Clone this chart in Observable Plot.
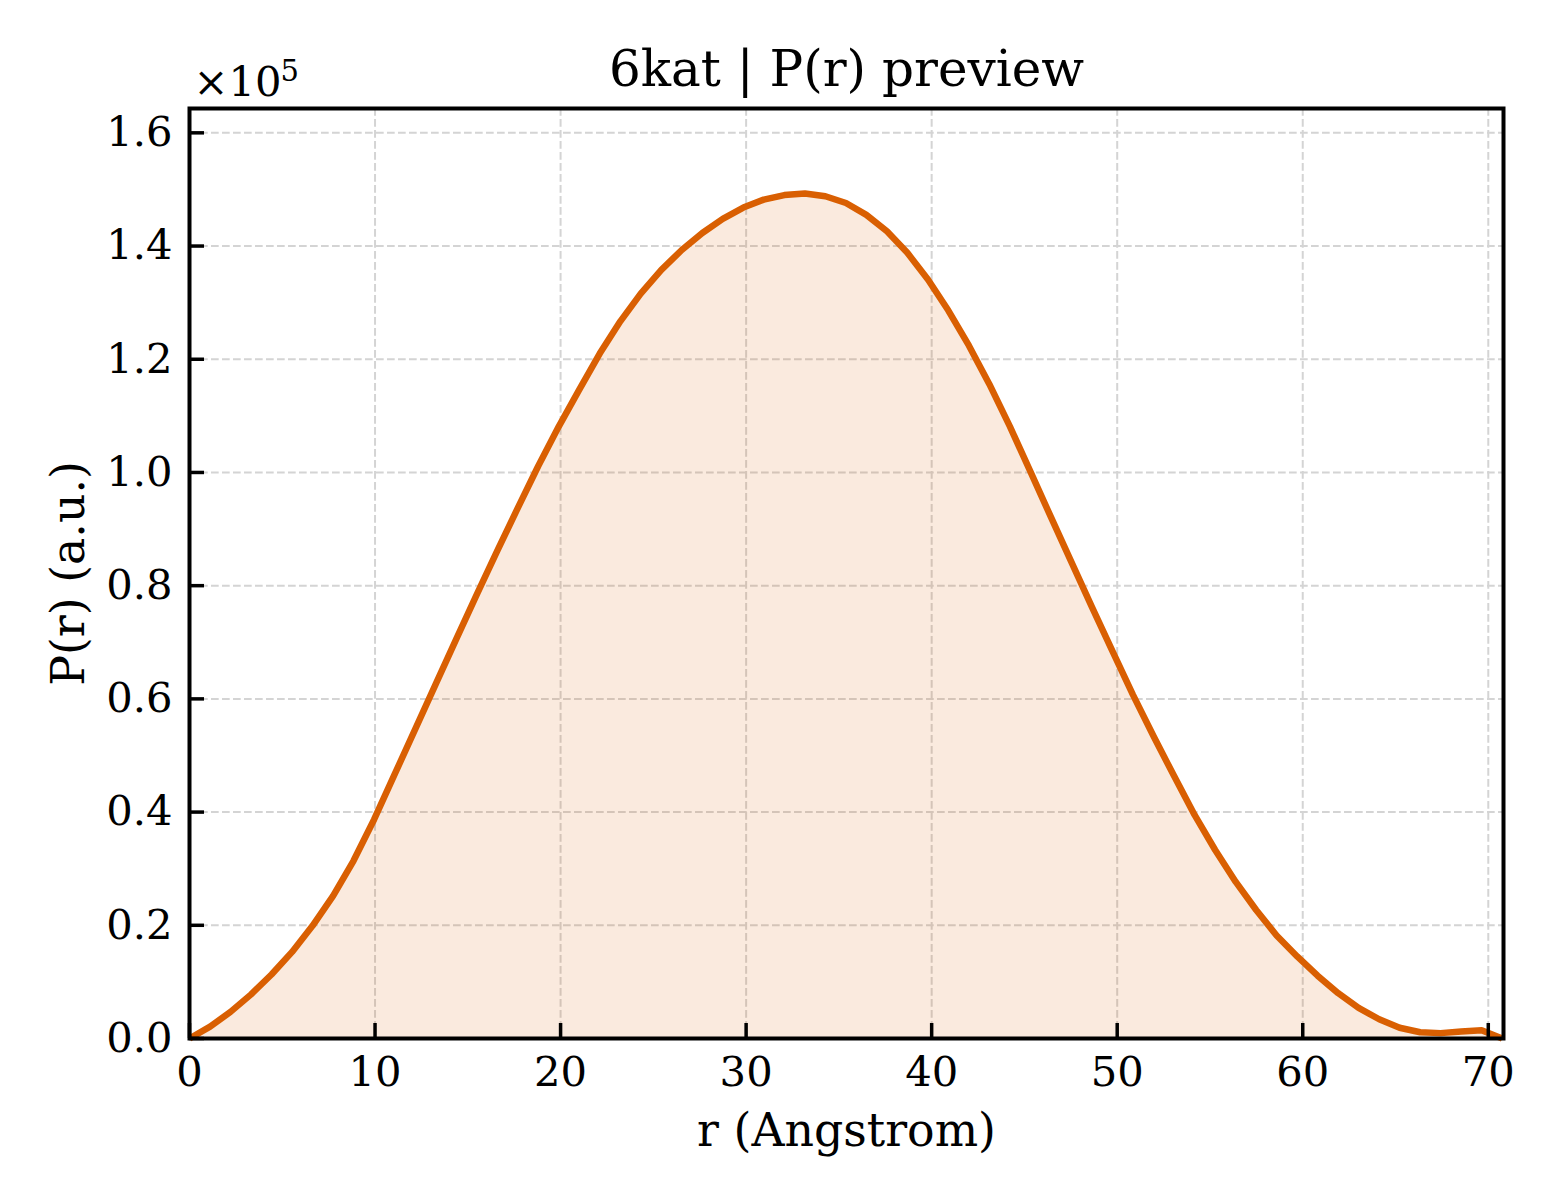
<!DOCTYPE html>
<html>
<head>
<meta charset="utf-8">
<script src="https://cdn.jsdelivr.net/npm/d3@7"></script>
<script src="https://cdn.jsdelivr.net/npm/@observablehq/plot@0.6"></script>
<style>
  html, body { margin: 0; padding: 0; background: #ffffff; }
  #chart svg { display: block; }
</style>
</head>
<body>
<div id="chart"></div>
<script>
// ---- data ----
const rValues = [0, 1.11, 2.21, 3.32, 4.42, 5.53, 6.63, 7.74, 8.84, 9.95,
  11.06, 12.16, 13.27, 14.37, 15.48, 16.58, 17.69, 18.79, 19.90, 21.00,
  22.11, 23.22, 24.32, 25.43, 26.53, 27.64, 28.74, 29.85, 30.95, 32.06,
  33.17, 34.27, 35.38, 36.48, 37.59, 38.69, 39.80, 40.90, 42.01, 43.11,
  44.22, 45.33, 46.43, 47.54, 48.64, 49.75, 50.85, 51.96, 53.06, 54.17,
  55.28, 56.38, 57.49, 58.59, 59.70, 60.80, 61.91, 63.01, 64.12, 65.22,
  66.33, 67.43, 68.54, 69.64, 70.75];
const pValues = [0, 2100, 4700, 7800, 11300, 15300, 19900, 25200, 31400, 38700,
  46700, 54600, 62600, 70500, 78400, 86100, 93700, 101100, 108100, 114600,
  121000, 126700, 131600, 135800, 139300, 142300, 144800, 146800, 148200, 149000,
  149300, 148800, 147600, 145500, 142600, 138800, 134100, 128600, 122400, 115600,
  108100, 100100, 92100, 84100, 76200, 68400, 60700, 53400, 46400, 39500,
  33300, 27700, 22700, 18200, 14500, 11100, 8000, 5400, 3400, 1900,
  1100, 950, 1250, 1470, 0];
const xTicks = [0, 10, 20, 30, 40, 50, 60, 70];
const yTicks = [0, 20000, 40000, 60000, 80000, 100000, 120000, 140000, 160000];
const titleText = "6kat | P(r) preview";
const xLabel = "r (Angstrom)";
const yLabel = "P(r) (a.u.)";
const offsetBase = "×10";
const offsetExp = "5";

const data = rValues.map((r, i) => ({r, p: pValues[i]}));

const W = 1560, H = 1200;
const mL = 189, mR = 57, mT = 108, mB = 162;
const innerW = W - mL - mR, innerH = H - mT - mB;
const orange = "#d95f02";
const tickLen = 15;

const chart = Plot.plot({
  width: W,
  height: H,
  marginLeft: mL,
  marginRight: mR,
  marginTop: mT,
  marginBottom: mB,
  style: {fontFamily: "'DejaVu Serif', serif", fontSize: "41.7px", color: "#000", background: "#fff", overflow: "visible"},
  x: {domain: [0, 70.82], axis: null},
  y: {domain: [0, 164300], axis: null},
  marks: [
    Plot.gridX(xTicks, {stroke: "#d4d4d4", strokeOpacity: 1, strokeWidth: 2, strokeDasharray: "7.7,3.3"}),
    Plot.gridY(yTicks, {stroke: "#d4d4d4", strokeOpacity: 1, strokeWidth: 2, strokeDasharray: "7.7,3.3"}),
    Plot.areaY(data, {x: "r", y: "p", fill: orange, fillOpacity: 0.13}),
    Plot.lineY(data, {x: "r", y: "p", stroke: orange, strokeWidth: 6.5, strokeLinejoin: "round", strokeLinecap: "butt"}),
    // inward ticks
    Plot.ruleX(xTicks, {x: d => d, insetTop: innerH - tickLen, stroke: "#000", strokeWidth: 3.5}),
    Plot.ruleY(yTicks, {y: d => d, insetRight: innerW - tickLen, stroke: "#000", strokeWidth: 3.5}),
    // tick labels
    Plot.axisX(xTicks, {tickSize: 0, tickPadding: 18, tickFormat: d => String(d), fontSize: 41.7, label: null}),
    Plot.axisY(yTicks, {tickSize: 0, tickPadding: 17, tickFormat: d => (d / 1e5).toFixed(1), fontSize: 41.7, label: null}),
    // frame
    Plot.frame({stroke: "#000", strokeWidth: 4}),
    // title & labels
    Plot.text([titleText], {text: d => d, frameAnchor: "top", dy: -23, lineAnchor: "bottom", fontSize: 50, fill: "#000"}),
    Plot.text([xLabel], {text: d => d, frameAnchor: "bottom", dy: 107, lineAnchor: "bottom", fontSize: 45.8, fill: "#000"}),
    Plot.text([yLabel], {text: d => d, frameAnchor: "left", dx: -106, rotate: -90, textAnchor: "middle", lineAnchor: "bottom", fontSize: 45.8, fill: "#000"}),
    Plot.text([offsetBase], {text: d => d, frameAnchor: "top-left", dx: 4, dy: -13, textAnchor: "start", lineAnchor: "bottom", fontSize: 41.7, fill: "#000"}),
    Plot.text([offsetExp], {text: d => d, frameAnchor: "top-left", dx: 91, dy: -28, textAnchor: "start", lineAnchor: "bottom", fontSize: 29, fill: "#000"})
  ]
});
document.getElementById("chart").appendChild(chart);
</script>
</body>
</html>
